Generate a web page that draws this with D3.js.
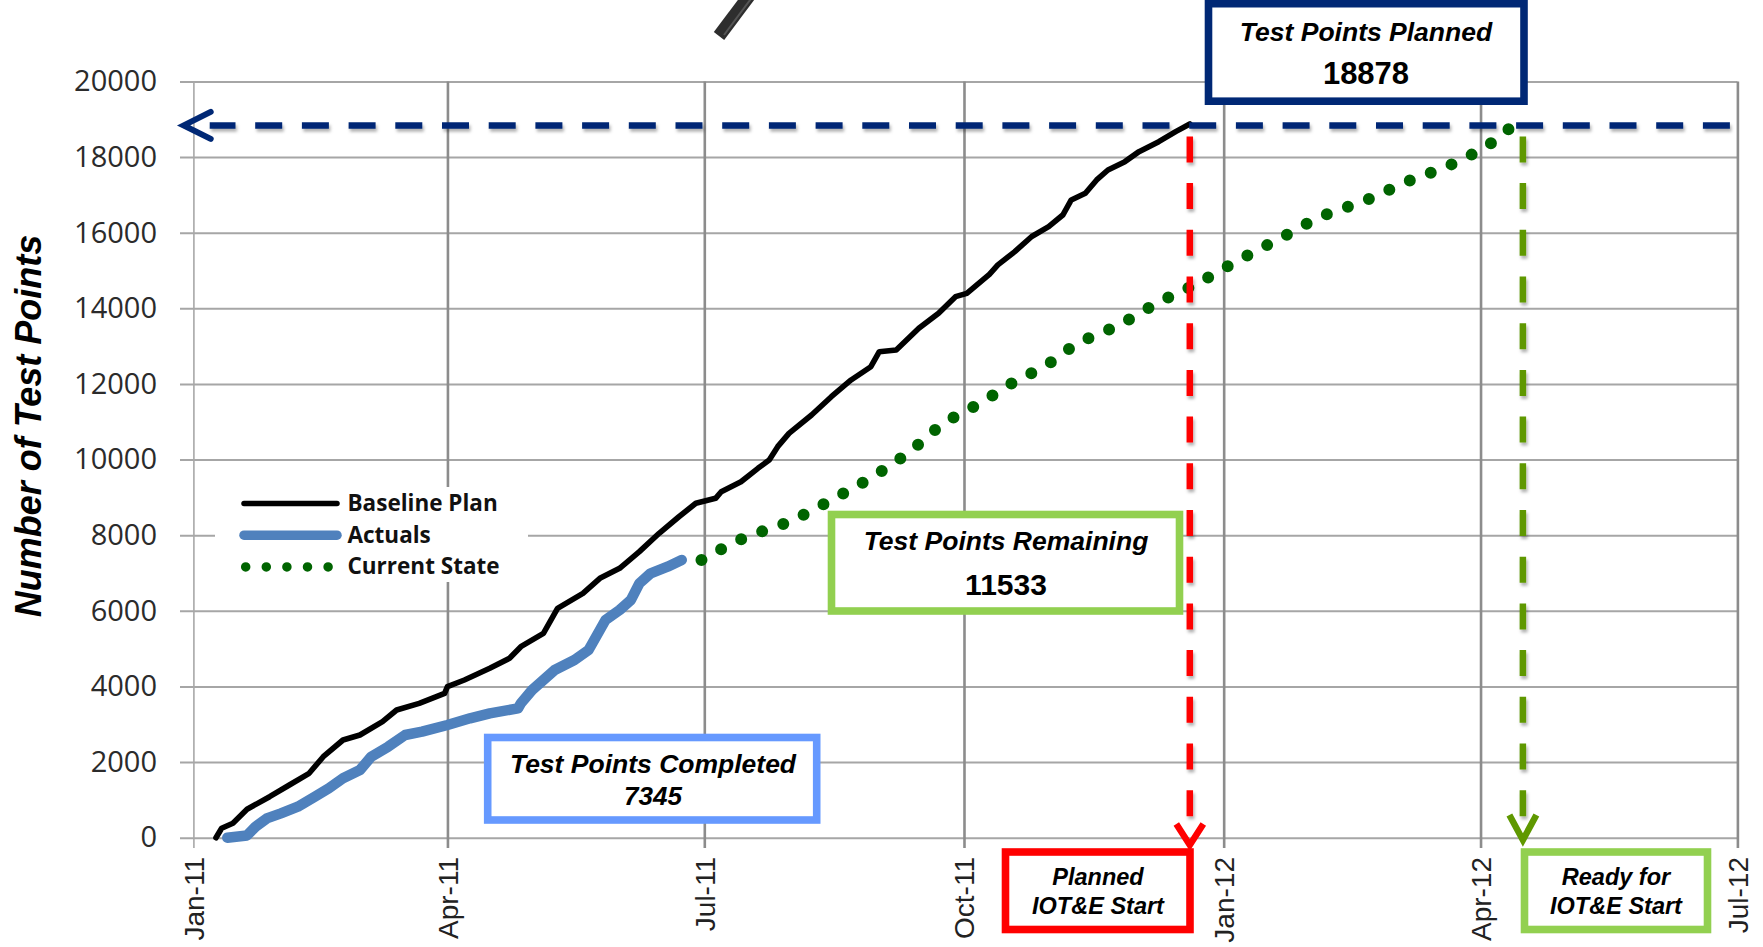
<!DOCTYPE html>
<html>
<head>
<meta charset="utf-8">
<script src="https://cdn.jsdelivr.net/npm/d3@7"></script>
<style>
    body { margin: 0; background: #fff; }
    svg { display: block; }
</style>
</head>
<body>
<div id="chart"></div>
<script>
const parse = d3.timeParse("%Y-%m-%d");

// Baseline Plan (cumulative test points)
const planDates = ["2011-01-09", "2011-01-11", "2011-01-15", "2011-01-20", "2011-01-28", "2011-02-04", "2011-02-11",
    "2011-02-16", "2011-02-23", "2011-03-01", "2011-03-09", "2011-03-14", "2011-03-22", "2011-03-31", "2011-04-01",
    "2011-04-07", "2011-04-16", "2011-04-23", "2011-04-27", "2011-05-05", "2011-05-10", "2011-05-19", "2011-05-25",
    "2011-06-01", "2011-06-08", "2011-06-15", "2011-06-22", "2011-06-28", "2011-07-05", "2011-07-07", "2011-07-14",
    "2011-07-20", "2011-07-24", "2011-07-27", "2011-07-31", "2011-08-08", "2011-08-15", "2011-08-22", "2011-08-29",
    "2011-09-01", "2011-09-07", "2011-09-15", "2011-09-22", "2011-09-28", "2011-10-02", "2011-10-10", "2011-10-13",
    "2011-10-19", "2011-10-25", "2011-10-31", "2011-11-05", "2011-11-08", "2011-11-13", "2011-11-17", "2011-11-21",
    "2011-11-27", "2011-12-02", "2011-12-09", "2011-12-15", "2011-12-20"];
const planValues = [0, 251, 383, 751, 1084, 1394, 1703,
    2142, 2584, 2716, 3068, 3377, 3554, 3819, 3994,
    4171, 4480, 4745, 5052, 5406, 6067, 6464, 6861,
    7125, 7565, 8051, 8489, 8844, 8976, 9151, 9416,
    9769, 9989, 10342, 10695, 11180, 11664, 12106, 12457,
    12854, 12898, 13473, 13870, 14309, 14398, 14900, 15150,
    15500, 15900, 16160, 16469, 16866, 17043, 17396, 17660,
    17880, 18145, 18409, 18674, 18878];

// Actuals
const actualDates = ["2011-01-13", "2011-01-20", "2011-01-23", "2011-01-27", "2011-02-01", "2011-02-07", "2011-02-13",
    "2011-02-18", "2011-02-23", "2011-03-01", "2011-03-05", "2011-03-11", "2011-03-17", "2011-03-23", "2011-04-01",
    "2011-04-09", "2011-04-16", "2011-04-26", "2011-04-27", "2011-05-01", "2011-05-05", "2011-05-09", "2011-05-16",
    "2011-05-21", "2011-05-25", "2011-05-27", "2011-06-01", "2011-06-05", "2011-06-08", "2011-06-12", "2011-06-18",
    "2011-06-23"];
const actualValues = [0, 60, 290, 510, 645, 820, 1084,
    1306, 1571, 1791, 2142, 2407, 2716, 2804, 2981,
    3158, 3290, 3422, 3554, 3906, 4171, 4436, 4700,
    4965, 5494, 5758, 6023, 6287, 6728, 6993, 7168,
    7345];

// Current State projection
const stateDates = ["2011-06-30", "2011-07-14", "2011-07-31", "2011-08-15", "2011-08-29", "2011-09-11", "2011-09-23",
    "2011-10-07", "2011-10-21", "2011-10-28", "2011-11-10", "2011-11-25", "2011-12-09", "2011-12-22", "2012-01-06",
    "2012-01-21", "2012-02-04", "2012-02-20", "2012-03-06", "2012-03-22", "2012-04-06", "2012-04-12", "2012-04-16"];
const stateValues = [7345, 7892, 8358, 8931, 9521, 10167, 10915,
    11505, 12150, 12396, 13057, 13568, 14160, 14636, 15261,
    15853, 16408, 16847, 17350, 17818, 18434, 18788, 18878];

const yTicks = [0, 2000, 4000, 6000, 8000, 10000, 12000, 14000, 16000, 18000, 20000];
const xTicks = ["2011-01-01", "2011-04-01", "2011-07-01", "2011-10-01", "2012-01-01", "2012-04-01", "2012-07-01"];

const legendLabels = ["Baseline Plan", "Actuals", "Current State"];

const plannedTotal = 18878;
const completedTotal = 7345;
const remainingTotal = 11533;
const plannedStart = "2011-12-20";
const readyStart = "2012-04-16";

const W = 1763, H = 947;
const svg = d3.select("#chart").append("svg")
    .attr("width", W)
    .attr("height", H);

const defs = svg.append("defs");
defs.append("filter")
    .attr("id", "shadow")
    .attr("filterUnits", "userSpaceOnUse")
    .attr("x", 0).attr("y", 0).attr("width", W).attr("height", H)
    .append("feDropShadow")
    .attr("dx", 1.5).attr("dy", 3)
    .attr("stdDeviation", 1.5)
    .attr("flood-color", "#000")
    .attr("flood-opacity", 0.3);

const x = d3.scaleTime()
    .domain([parse(xTicks[0]), parse(xTicks[xTicks.length - 1])])
    .range([193.4, 1737.4]);
const y = d3.scaleLinear()
    .domain([0, 20000])
    .range([837.7, 81.5]);

const axisBottomY = 848;
const axisLeftX = 180;

// horizontal gridlines + y labels
const yAxis = svg.append("g")
    .attr("transform", `translate(${axisLeftX},0)`)
    .call(d3.axisLeft(y)
        .tickValues(yTicks)
        .tickSize(-(x.range()[1] - axisLeftX))
        .tickPadding(23)
        .tickFormat(d3.format("d")));
yAxis.select(".domain").remove();
yAxis.selectAll(".tick line")
    .attr("stroke", "#a6a6a6")
    .attr("stroke-width", 2);
yAxis.selectAll(".tick text")
    .attr("font-family", "'Open Sans', sans-serif")
    .attr("font-size", 29)
    .attr("fill", "#2b2b2b");

// vertical gridlines + rotated date labels
const xAxis = svg.append("g")
    .attr("transform", `translate(0,${axisBottomY})`)
    .call(d3.axisBottom(x)
        .tickValues(xTicks.map(parse))
        .tickSize(-(axisBottomY - y.range()[1]))
        .tickFormat(d3.timeFormat("%b-%y")));
xAxis.select(".domain").remove();
xAxis.selectAll(".tick line")
    .attr("stroke", function(d, i) { return i == 0 ? "#a8a8a8" : "#8c8c8c" })
    .attr("stroke-width", function(d, i) { return i == 0 ? 1.6 : 2.6 });
xAxis.selectAll(".tick text")
    .attr("transform", "rotate(-90)")
    .attr("x", -9)
    .attr("y", 0)
    .attr("dy", "0.35em")
    .attr("text-anchor", "end")
    .attr("font-family", "'Liberation Sans', Arial, sans-serif")
    .attr("font-size", 28)
    .attr("fill", "#222");

// y axis title
svg.append("text")
    .attr("transform", "translate(41,426) rotate(-90)")
    .attr("text-anchor", "middle")
    .attr("font-family", "'Liberation Sans', Arial, sans-serif")
    .attr("font-size", 36)
    .attr("font-weight", "bold")
    .attr("font-style", "italic")
    .attr("fill", "#000")
    .text("Number of Test Points");

// legend
const legend = svg.append("g");
legend.append("rect")
    .attr("x", 215).attr("y", 487)
    .attr("width", 313).attr("height", 95)
    .attr("fill", "#fff");
const legendStyles = [
    { stroke: "#000", width: 5.5, dash: null, cap: "round" },
    { stroke: "#4f81bd", width: 9.5, dash: null, cap: "round" },
    { stroke: "#006400", width: 9.5, dash: "0 20.6", cap: "round" }
];
legendLabels.forEach(function(label, i) {
    const ly = 503.5 + i * 31.7;
    const st = legendStyles[i];
    legend.append("line")
        .attr("x1", i == 2 ? 245.7 : 244).attr("x2", i == 2 ? 330 : 337)
        .attr("y1", ly).attr("y2", ly)
        .attr("stroke", st.stroke)
        .attr("stroke-width", st.width)
        .attr("stroke-linecap", st.cap)
        .attr("stroke-dasharray", st.dash);
    legend.append("text")
        .attr("x", 347.5)
        .attr("y", ly + 7.5)
        .attr("font-family", "'Open Sans', sans-serif")
        .attr("font-weight", 700)
        .attr("font-size", 22.5)
        .attr("fill", "#111")
        .text(label);
});

// series
const toPoints = (dates, values) => dates.map((d, i) => ({ date: parse(d), value: values[i] }));
const plan = toPoints(planDates, planValues);
const actual = toPoints(actualDates, actualValues);
const state = toPoints(stateDates, stateValues);

const line = d3.line()
    .x(d => x(d.date))
    .y(d => y(d.value));

svg.append("path")
    .datum(state)
    .attr("d", line.curve(d3.curveMonotoneX))
    .attr("fill", "none")
    .attr("stroke", "#006400")
    .attr("stroke-width", 12)
    .attr("stroke-linecap", "round")
    .attr("stroke-dasharray", "0 22.4");

line.curve(d3.curveLinear);

svg.append("path")
    .datum(plan)
    .attr("d", line)
    .attr("fill", "none")
    .attr("stroke", "#000")
    .attr("stroke-width", 5.6)
    .attr("stroke-linejoin", "round")
    .attr("stroke-linecap", "round");

svg.append("path")
    .datum(actual)
    .attr("d", line)
    .attr("fill", "none")
    .attr("stroke", "#4f81bd")
    .attr("stroke-width", 10.5)
    .attr("stroke-linejoin", "round")
    .attr("stroke-linecap", "round");

// annotation lines
const navy = "#002875";
const yPlanned = y(plannedTotal) + 1.5;
const xRight = x.range()[1] - 7.5;
const xLeft = x.range()[0] - 9.7;

svg.append("path")
    .attr("d", `M${xRight},${yPlanned}H${xLeft + 26}`)
    .attr("stroke", navy)
    .attr("stroke-width", 6.5)
    .attr("stroke-dasharray", "27 19.7")
    .attr("filter", "url(#shadow)");
svg.append("path")
    .attr("d", `M${xLeft + 27},${yPlanned - 13.5}L${xLeft},${yPlanned}L${xLeft + 27},${yPlanned + 13.5}`)
    .attr("fill", "none")
    .attr("stroke", navy)
    .attr("stroke-width", 6)
    .attr("stroke-linecap", "round")
    .attr("stroke-linejoin", "miter");

function dropLine(dateStr, color, tipY, armY) {
    const lx = x(parse(dateStr));
    svg.append("path")
        .attr("d", `M${lx},${yPlanned + 11}V${tipY - 20}`)
        .attr("stroke", color)
        .attr("stroke-width", 6.5)
        .attr("stroke-dasharray", "26 20.7")
        .attr("filter", "url(#shadow)");
    svg.append("path")
        .attr("d", `M${lx - 13.5},${armY}L${lx},${tipY}L${lx + 13.5},${armY}`)
        .attr("fill", "none")
        .attr("stroke", color)
        .attr("stroke-width", 6.5)
        .attr("stroke-linejoin", "miter");
}
dropLine(plannedStart, "#ff0000", 845, 824);
dropLine(readyStart, "#5f9800", 840, 815);

// annotation boxes
const boxes = [
    { x: 1208.5, y: 3.7, w: 315.5, h: 97.5, color: navy, cx: 1366,
      lines: [{ t: "Test Points Planned", y: 41, size: 26.5, style: "italic" },
              { t: String(plannedTotal), y: 84, size: 31, style: "normal" }] },
    { x: 831.5, y: 514.5, w: 348, h: 96.5, color: "#92d050", cx: 1006,
      lines: [{ t: "Test Points Remaining", y: 550, size: 26.5, style: "italic" },
              { t: String(remainingTotal), y: 595, size: 30, style: "normal" }] },
    { x: 487.7, y: 737.5, w: 329, h: 82.5, color: "#6699ff", cx: 653,
      lines: [{ t: "Test Points Completed", y: 772.5, size: 26.5, style: "italic" },
              { t: String(completedTotal), y: 804.5, size: 26, style: "italic" }] },
    { x: 1005.5, y: 852, w: 184.5, h: 77.5, color: "#ff0000", cx: 1098,
      lines: [{ t: "Planned", y: 885, size: 23.5, style: "italic" },
              { t: "IOT&E Start", y: 913.5, size: 23.5, style: "italic" }] },
    { x: 1524.5, y: 852, w: 183, h: 77.5, color: "#92d050", cx: 1616,
      lines: [{ t: "Ready for", y: 885, size: 23.5, style: "italic" },
              { t: "IOT&E Start", y: 913.5, size: 23.5, style: "italic" }] }
];

const boxGroups = svg.selectAll("g.box")
    .data(boxes)
    .enter()
    .append("g")
    .attr("class", "box");

boxGroups.append("rect")
    .attr("x", d => d.x)
    .attr("y", d => d.y)
    .attr("width", d => d.w)
    .attr("height", d => d.h)
    .attr("fill", "#fff")
    .attr("stroke", d => d.color)
    .attr("stroke-width", 7.6);

boxGroups.each(function(b) {
    d3.select(this).selectAll("text")
        .data(b.lines)
        .enter()
        .append("text")
        .attr("x", b.cx)
        .attr("y", d => d.y)
        .attr("text-anchor", "middle")
        .attr("font-family", "'Liberation Sans', Arial, sans-serif")
        .attr("font-weight", "bold")
        .attr("font-style", d => d.style)
        .attr("font-size", d => d.size)
        .attr("fill", "#000")
        .text(d => d.t);
});

// pen tip clipart at the top edge
svg.append("line")
    .attr("x1", 719).attr("y1", 36)
    .attr("x2", 752).attr("y2", -8)
    .attr("stroke", "#2e2e2e")
    .attr("stroke-width", 13);
svg.append("line")
    .attr("x1", 724).attr("y1", 35)
    .attr("x2", 756).attr("y2", -8)
    .attr("stroke", "#555")
    .attr("stroke-width", 2);
</script>
</body>
</html>
